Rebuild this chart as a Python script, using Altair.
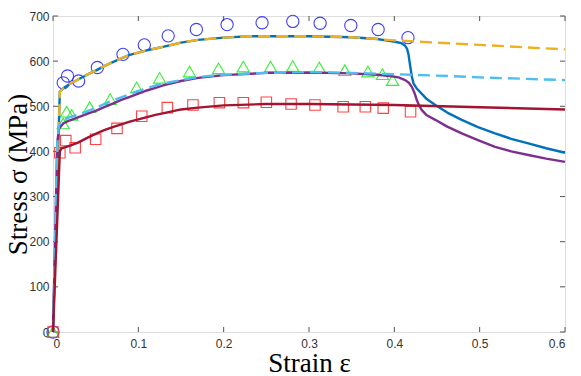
import altair as alt
import pandas as pd

# ---- data ----
xticks = [0, 0.1, 0.2, 0.3, 0.4, 0.5, 0.6]
yticks = [0, 100, 200, 300, 400, 500, 600, 700]

# measured points
circ_x = [0, 0.012, 0.017, 0.030, 0.052, 0.082, 0.107, 0.135, 0.168, 0.204, 0.245, 0.281, 0.313, 0.349, 0.381, 0.416]
circ_y = [0, 552, 567, 556, 586, 615, 636, 656, 670, 681, 685, 688, 684, 679, 670, 652]

tri_x = [0, 0.012, 0.016, 0.022, 0.043, 0.067, 0.098, 0.125, 0.160, 0.194, 0.223, 0.255, 0.281, 0.312, 0.342, 0.369, 0.386, 0.398]
tri_y = [0, 462, 488, 481, 498, 516, 542, 563, 577, 584, 588, 588, 589, 586, 580, 577, 571, 558]

sq_x = [0, 0.008, 0.015, 0.026, 0.050, 0.075, 0.104, 0.134, 0.164, 0.195, 0.223, 0.250, 0.279, 0.307, 0.340, 0.366, 0.387, 0.419]
sq_y = [0, 397, 424, 408, 427, 451, 478, 497, 503, 508, 508, 509, 505, 503, 499, 499, 496, 488]

# simulated curves
yel_x = [0, 0.008, 0.012, 0.02, 0.03, 0.04, 0.05, 0.06, 0.07, 0.08, 0.09, 0.1, 0.11, 0.12, 0.13, 0.15, 0.17, 0.2, 0.23, 0.26, 0.3, 0.35, 0.4, 0.45, 0.5, 0.55, 0.6]
yel_y = [0, 532, 540, 550, 560, 570, 579, 589, 598, 606, 614, 619, 624, 628, 632, 641, 647, 652, 655, 655, 655, 653, 646, 641, 636, 631, 626]

blu_x = [0, 0.008, 0.012, 0.02, 0.03, 0.04, 0.05, 0.06, 0.07, 0.08, 0.09, 0.1, 0.11, 0.12, 0.13, 0.15, 0.17, 0.2, 0.23, 0.26, 0.3, 0.35, 0.38, 0.39, 0.401, 0.408, 0.4127, 0.4150, 0.4166, 0.4185, 0.4205, 0.4224, 0.426, 0.430, 0.438, 0.448, 0.462, 0.479, 0.498, 0.518, 0.537, 0.557, 0.578, 0.6]
blu_y = [0, 532, 540, 550, 560, 570, 579, 589, 598, 606, 614, 619, 624, 628, 632, 641, 647, 652, 655, 655, 655, 653, 649, 646, 643, 640, 634, 627, 615, 590, 566, 551, 540, 532, 516, 503, 486, 470, 454, 440, 428, 418, 407, 397]

lbl_x = [0, 0.005, 0.007, 0.012, 0.02, 0.03, 0.04, 0.05, 0.06, 0.07, 0.08, 0.09, 0.1, 0.11, 0.12, 0.13, 0.15, 0.17, 0.2, 0.25, 0.3, 0.35, 0.4, 0.45, 0.5, 0.55, 0.6]
lbl_y = [0, 420, 458, 471, 476, 482, 489, 496, 505, 513, 520, 527, 534, 540, 546, 551, 558, 565, 570, 574, 576, 574, 571, 568, 564, 561, 558]

pur_x = [0, 0.005, 0.007, 0.012, 0.02, 0.03, 0.04, 0.05, 0.06, 0.07, 0.08, 0.09, 0.1, 0.11, 0.12, 0.13, 0.15, 0.17, 0.2, 0.25, 0.3, 0.35, 0.38, 0.395, 0.405, 0.4127, 0.417, 0.4205, 0.4235, 0.4263, 0.429, 0.432, 0.438, 0.448, 0.462, 0.479, 0.498, 0.518, 0.537, 0.557, 0.578, 0.6]
pur_y = [0, 420, 450, 462, 469, 476, 483, 490, 498, 506, 514, 521, 528, 535, 541, 547, 556, 563, 569, 574, 575, 573, 570, 567, 564, 558, 552, 543, 530, 514, 502, 492, 480, 470, 455, 440, 425, 410, 400, 392, 384, 377]

red_x = [0, 0.008, 0.01, 0.02, 0.03, 0.04, 0.05, 0.06, 0.07, 0.08, 0.09, 0.1, 0.11, 0.12, 0.13, 0.15, 0.17, 0.2, 0.25, 0.3, 0.4, 0.5, 0.6]
red_y = [0, 400, 407, 413, 420, 430, 439, 447, 454, 460, 466, 471, 476, 481, 485, 493, 497, 502, 505, 505, 503, 498, 493]

# ---- chart ----
W, H = 512, 316
xs = alt.Scale(domain=[0, 0.6], nice=False, zero=False)
ys = alt.Scale(domain=[0, 700], nice=False, zero=False)

LABEL_FONT = "Liberation Sans"
TITLE_FONT = "Liberation Serif"

xaxis = alt.Axis(values=xticks, format="~g", title="Strain ε", grid=False, domain=False, ticks=False,
                 labelFont=LABEL_FONT, labelFontSize=12, labelColor="#333333", labelPadding=6,
                 titleFont=TITLE_FONT, titleFontSize=27, titleFontWeight="normal", titleColor="#000000",
                 titleX=W / 2, titleY=39, titleBaseline="alphabetic", titleAlign="center")
yaxis = alt.Axis(values=yticks, format="d", title="Stress σ (MPa)", grid=False, domain=False, ticks=False,
                 labelFont=LABEL_FONT, labelFontSize=12, labelColor="#333333", labelPadding=4,
                 titleFont=TITLE_FONT, titleFontSize=27, titleFontWeight="normal", titleColor="#000000",
                 titleX=-27, titleY=H / 2, titleAngle=270, titleBaseline="alphabetic", titleAlign="center")

X = alt.X("x:Q", scale=xs, axis=xaxis)
Y = alt.Y("y:Q", scale=ys, axis=yaxis)


def pts(xv, yv, shape, color, size):
    df = pd.DataFrame({"x": xv, "y": yv})
    return alt.Chart(df).mark_point(shape=shape, filled=False, color=color, size=size,
                                    strokeWidth=1.1, opacity=0.9).encode(x=X, y=Y)


def line(xv, yv, color, dash=None):
    df = pd.DataFrame({"x": xv, "y": yv, "o": list(range(len(xv)))})
    kw = dict(color=color, strokeWidth=2.4, interpolate="linear", strokeJoin="round")
    if dash:
        kw["strokeDash"] = dash
    return alt.Chart(df).mark_line(**kw).encode(x=X, y=Y, order="o:Q")


tick_col = "#555555"
xt = pd.DataFrame({"x": xticks})
yt = pd.DataFrame({"y": yticks})
ticks_bottom = alt.Chart(xt).mark_rule(color=tick_col, strokeWidth=1).encode(x=X, y=alt.value(H), y2=alt.value(H - 5))
ticks_top = alt.Chart(xt).mark_rule(color=tick_col, strokeWidth=1).encode(x=X, y=alt.value(0), y2=alt.value(5))
ticks_left = alt.Chart(yt).mark_rule(color=tick_col, strokeWidth=1).encode(y=Y, x=alt.value(0), x2=alt.value(5))
ticks_right = alt.Chart(yt).mark_rule(color=tick_col, strokeWidth=1).encode(y=Y, x=alt.value(W), x2=alt.value(W - 5))

chart = alt.layer(
    ticks_bottom, ticks_top, ticks_left, ticks_right,
    pts(circ_x, circ_y, "circle", "#2a2aff", 150),
    pts(tri_x, tri_y, "triangle-up", "#22ee22", 150),
    pts(sq_x, sq_y, "square", "#ff3030", 110),
    line(blu_x, blu_y, "#0072BD"),
    line(yel_x, yel_y, "#EDB120", [12, 6]),
    line(pur_x, pur_y, "#7E2F8E"),
    line(lbl_x, lbl_y, "#4DBEEE", [12, 6]),
    line(red_x, red_y, "#A2142F"),
).properties(
    width=W, height=H,
    autosize=alt.AutoSizeParams(type="none"),
    padding={"left": 45, "top": 8, "right": 8, "bottom": 44},
).configure_view(
    stroke="#8c8c8c", strokeWidth=1.5
).configure(background="white")

chart.save("out.html", embed_options={"renderer": "svg", "actions": False})
